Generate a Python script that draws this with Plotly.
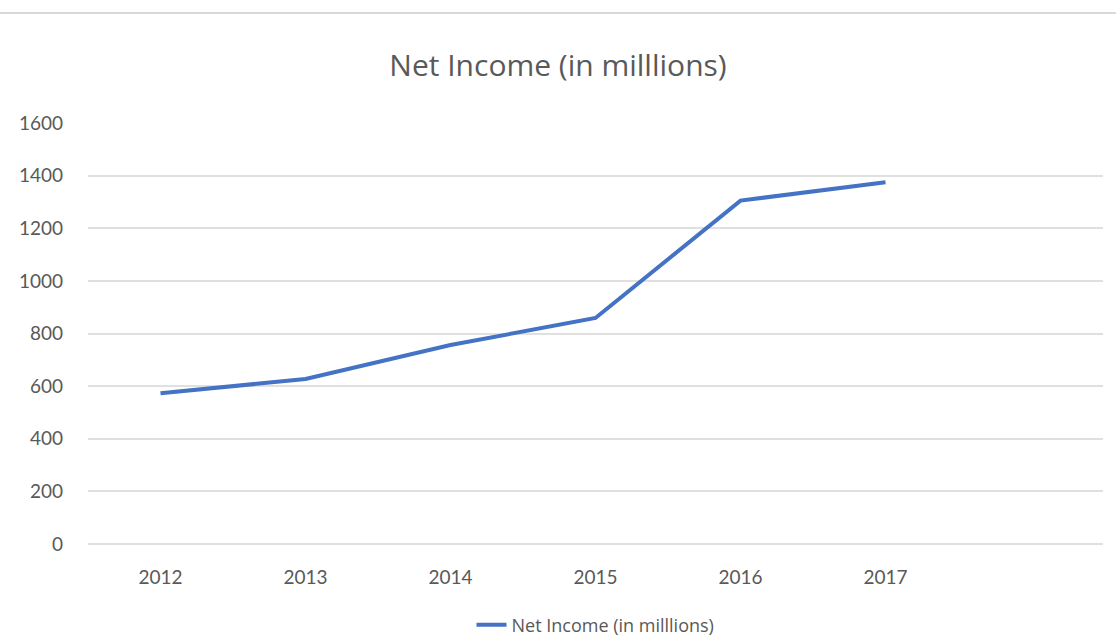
import plotly.graph_objects as go

years = ["2012", "2013", "2014", "2015", "2016", "2017"]
net_income = [573, 627, 756, 859, 1305, 1375]
series_name = "Net Income (in milllions)"
title_text = "Net Income (in milllions)"
y_ticks = [0, 200, 400, 600, 800, 1000, 1200, 1400, 1600]

FONT = "Lato"
TFONT = "Open Sans"
GRAY = "#595959"
GRID = "#e0e0e0"

fig = go.Figure()
fig.add_trace(go.Scatter(
    x=years, y=net_income, mode="lines", name=series_name,
    line=dict(color="#4472C4", width=4),
))

fig.update_layout(
    width=1116, height=642,
    margin=dict(l=88, r=13, t=123, b=98, autoexpand=False),
    paper_bgcolor="white", plot_bgcolor="white",
    font=dict(family=FONT, color=GRAY),
    title=dict(text=title_text, x=0.5, xanchor="center", y=1 - 65 / 642,
               yanchor="middle", font=dict(size=30, color=GRAY, family=TFONT)),
    showlegend=True,
    legend=dict(orientation="h", x=0.5, xanchor="center", y=-(625 - 544) / 421,
                yanchor="middle", font=dict(size=18, color=GRAY, family=TFONT)),
    xaxis=dict(type="category", categoryorder="array", categoryarray=years,
               range=[-0.5, 6.5], showgrid=False, zeroline=False, showline=False,
               ticks="", ticklabelstandoff=20, automargin=False,
               tickfont=dict(size=19, color=GRAY, family=FONT)),
    yaxis=dict(range=[0, 1600], tickvals=y_ticks, showgrid=True,
               gridcolor=GRID, gridwidth=2, zeroline=True,
               zerolinecolor=GRID, zerolinewidth=2, showline=False,
               ticks="", ticklabelstandoff=24, automargin=False,
               tickfont=dict(size=19, color=GRAY, family=FONT)),
    shapes=[dict(type="line", xref="paper", yref="paper",
                 x0=-88 / 1015, x1=1 + 13 / 1015,
                 y0=(544 - 13) / 421, y1=(544 - 13) / 421,
                 line=dict(color="#d9d9d9", width=2))],
)

fig.write_html("out.html")
